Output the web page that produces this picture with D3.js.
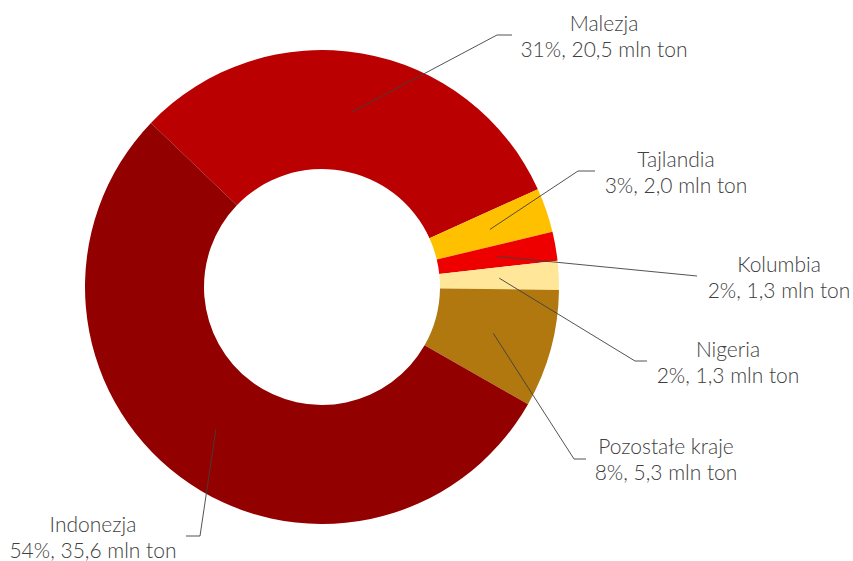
<!DOCTYPE html>
<html>
<head>
<meta charset="utf-8">
<script src="https://cdn.jsdelivr.net/npm/d3@7/dist/d3.min.js"></script>
<style>
  html, body { margin: 0; padding: 0; background: #fff; }
  svg { display: block; }
  text { font-family: Lato, "Open Sans", sans-serif; font-weight: 300; fill: #404040; }
</style>
</head>
<body>
<svg id="chart" width="853" height="561"></svg>
<script>
// Palm oil production by country (mln ton)
const countries = ["Malezja", "Tajlandia", "Kolumbia", "Nigeria", "Pozostałe kraje", "Indonezja"];
const production = [20.5, 2.0, 1.3, 1.3, 5.3, 35.6];
const colors = ["#BA0000", "#FFC000", "#EE0000", "#FFE699", "#B0780E", "#920000"];

// Label anchor (text centre x, first baseline y) and leader elbow per slice
const labelLayout = [
  { x: 604, y: 31,  elbow: [497, 35],  end: [512, 35] },
  { x: 676, y: 167, elbow: [578, 171], end: [595, 171] },
  { x: 779, y: 272, elbow: [697, 276], end: [697, 276] },
  { x: 728, y: 357, elbow: [635, 361], end: [647, 361] },
  { x: 666, y: 454, elbow: [574, 459], end: [586, 459] },
  { x: 93,  y: 532, elbow: [200, 536], end: [186, 536] }
];

const cx = 322, cy = 287, outerR = 237, innerR = 118;
const total = d3.sum(production);
const fmt = v => d3.format(".1f")(v).replace(".", ",");

const svg = d3.select("#chart");
const g = svg.append("g").attr("transform", `translate(${cx},${cy})`);

const startDeg = -46.2;
const pie = d3.pie().sort(null).value(d => d)
  .startAngle(startDeg * Math.PI / 180)
  .endAngle((startDeg + 360) * Math.PI / 180);
const arcs = pie(production);
const arc = d3.arc().innerRadius(innerR).outerRadius(outerR);

g.selectAll("path.slice").data(arcs).join("path")
  .attr("class", "slice")
  .attr("d", arc)
  .attr("fill", (d, i) => colors[i]);

// Leader lines from slice centroid to label
const lines = svg.append("g");
arcs.forEach((d, i) => {
  const c = arc.centroid(d);
  const L = labelLayout[i];
  lines.append("polyline")
    .attr("points", [[c[0] + cx, c[1] + cy], L.elbow, L.end].map(p => p.join(",")).join(" "))
    .attr("fill", "none")
    .attr("stroke", "#404040")
    .attr("stroke-width", 0.9);
});

// Labels
const labels = svg.append("g");
arcs.forEach((d, i) => {
  const L = labelLayout[i];
  const pct = Math.round(production[i] / total * 100);
  const t = labels.append("text")
    .attr("text-anchor", "middle")
    .attr("font-size", 21);
  t.append("tspan").attr("x", L.x).attr("y", L.y).text(countries[i]);
  t.append("tspan").attr("x", L.x).attr("y", L.y + 26)
    .text(`${pct}%, ${fmt(production[i])} mln ton`);
});
</script>
</body>
</html>
